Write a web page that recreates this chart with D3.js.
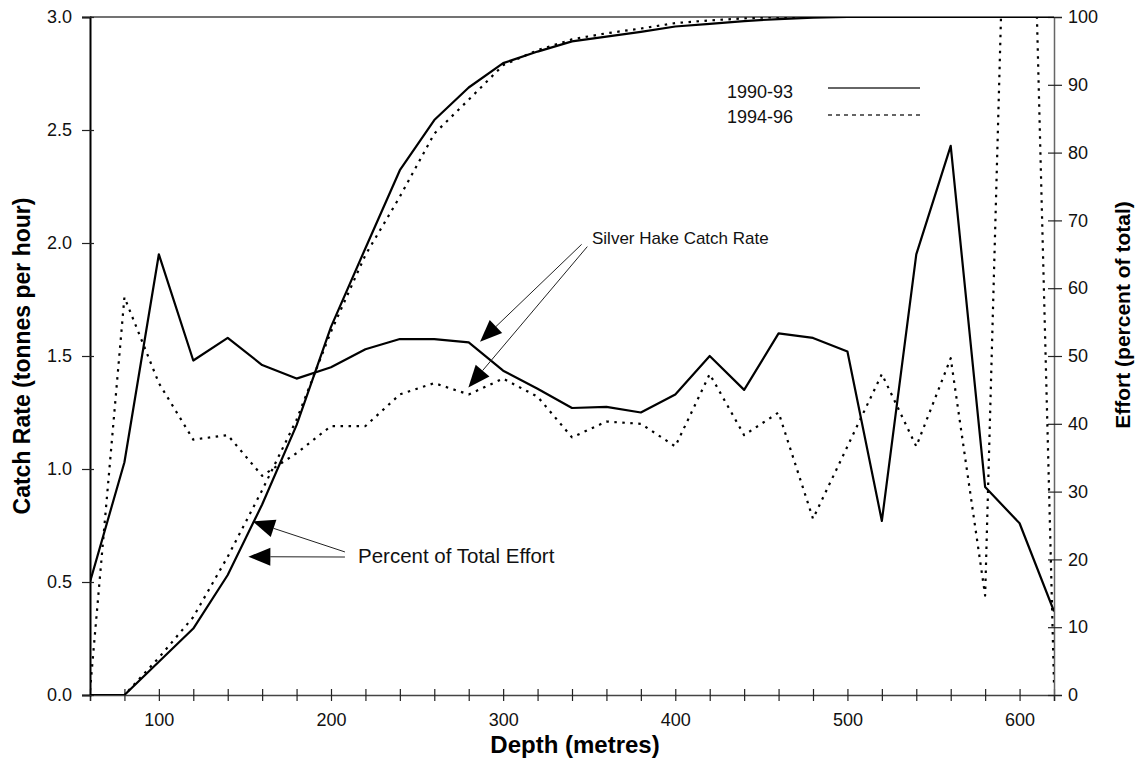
<!DOCTYPE html>
<html>
<head>
<meta charset="utf-8">
<script src="https://cdn.jsdelivr.net/npm/d3@7"></script>
<style>
  body { margin: 0; background: #fff; }
  svg { display: block; font-family: "Liberation Sans", Arial, sans-serif; }
</style>
</head>
<body>
<svg></svg>
<script>
// depth classes (metres)
var depth = [60, 80, 100, 120, 140, 160, 180, 200, 220, 240, 260, 280, 300, 320, 340,
             360, 380, 400, 420, 440, 460, 480, 500, 520, 540, 560, 580, 600, 620];

// silver hake catch rate (tonnes per hour)
var catch9093 = [0.50, 1.03, 1.95, 1.48, 1.58, 1.46, 1.40, 1.45, 1.53, 1.575, 1.575, 1.56, 1.435, 1.355, 1.27,
                 1.275, 1.25, 1.33, 1.50, 1.35, 1.60, 1.58, 1.52, 0.77, 1.95, 2.43, 0.92, 0.76, 0.37];
var catch9496 = [0.02, 1.76, 1.38, 1.13, 1.15, 0.97, 1.07, 1.19, 1.19, 1.33, 1.38, 1.33, 1.40, 1.32, 1.14,
                 1.21, 1.20, 1.10, 1.42, 1.15, 1.25, 0.78, 1.10, 1.42, 1.10, 1.49, 0.44, 6.0, 0.05];

// cumulative effort (percent of total)
var effort9093 = [0, 0, 4.9, 9.8, 17.7, 28.1, 39.8, 54.3, 65.9, 77.4, 84.8, 89.6, 93.2, 94.9, 96.4,
                  97.1, 97.8, 98.6, 99.0, 99.4, 99.7, 99.9, 100, 100, 100, 100, 100, 100, 100];
var effort9496 = [0, 0, 5.5, 11.5, 20.4, 30.2, 40.6, 53.6, 64.9, 73.5, 82.8, 87.8, 92.9, 95.1, 96.7,
                  97.6, 98.3, 99.1, 99.5, 99.8, 100, 100, 100, 100, 100, 100, 100, 100, 100];

var leftTicks = [0, 0.5, 1.0, 1.5, 2.0, 2.5, 3.0];
var rightTicks = [0, 10, 20, 30, 40, 50, 60, 70, 80, 90, 100];
var depthTicks = [60, 80, 100, 120, 140, 160, 180, 200, 220, 240, 260, 280, 300, 320, 340,
                  360, 380, 400, 420, 440, 460, 480, 500, 520, 540, 560, 580, 600, 620];
var depthLabels = [100, 200, 300, 400, 500, 600];
var legendLabels = ["1990-93", "1994-96"];

var width = 1142;
var height = 772;
var pLeft = 90, pRight = 1054, pTop = 17, pBottom = 695;
var dotted = "2.5,5.5";

var svg = d3.select('svg')
    .attr('width', width)
    .attr('height', height)
    .attr('viewBox', '0 0 ' + width + ' ' + height);

var x = d3.scaleLinear().domain([60, 620]).range([pLeft, pRight]);
var yL = d3.scaleLinear().domain([0, 3]).range([pBottom, pTop]);
var yR = d3.scaleLinear().domain([0, 100]).range([pBottom, pTop]);

svg.append("defs").append("clipPath").attr("id", "plot")
    .append("rect")
    .attr("x", pLeft).attr("y", pTop)
    .attr("width", pRight - pLeft).attr("height", pBottom - pTop);

// frame top
svg.append("line")
    .attr("x1", pLeft).attr("x2", pRight)
    .attr("y1", pTop).attr("y2", pTop)
    .attr("stroke", "#444").attr("stroke-width", 1.5);

// axes
var gx = svg.append("g")
    .attr("transform", "translate(0," + pBottom + ")")
    .call(d3.axisBottom(x).tickValues(depthTicks).tickSize(6).tickPadding(12)
        .tickFormat(function (d) { return depthLabels.indexOf(d) >= 0 ? d : ""; }));
gx.selectAll("line").attr("y1", -6);

var gl = svg.append("g")
    .attr("transform", "translate(" + pLeft + ",0)")
    .call(d3.axisLeft(yL).tickValues(leftTicks).tickSize(8).tickPadding(10)
        .tickFormat(d3.format(".1f")));
gl.selectAll("line").attr("x1", 4);

var gr = svg.append("g")
    .attr("transform", "translate(" + pRight + ",0)")
    .call(d3.axisRight(yR).tickValues(rightTicks).tickSize(8).tickPadding(6));
gr.selectAll("line").attr("x1", -6);

svg.selectAll(".domain").attr("stroke", "#444").attr("stroke-width", 1.5);
gl.select(".domain").attr("stroke", "#000").attr("stroke-width", 2);
gr.select(".domain").attr("stroke", "#666");
svg.selectAll(".tick line").attr("stroke", "#222").attr("stroke-width", 1.2);
svg.selectAll(".tick text")
    .attr("font-family", "'Liberation Sans', Arial, sans-serif")
    .attr("font-size", 18).attr("fill", "#111");

// lines
var plot = svg.append("g").attr("clip-path", "url(#plot)");

function addLine(values, yScale, dash) {
    var line = d3.line()
        .x(function (d, i) { return x(depth[i]); })
        .y(function (d) { return yScale(d); });
    plot.append("path")
        .datum(values)
        .attr("fill", "none")
        .attr("stroke", "#000")
        .attr("stroke-width", 2.2)
        .attr("stroke-dasharray", dash)
        .attr("stroke-linejoin", "round")
        .attr("d", line);
}

addLine(effort9093, yR, null);
addLine(effort9496, yR, dotted);
addLine(catch9093, yL, null);
addLine(catch9496, yL, dotted);

// legend
svg.selectAll(".leg")
    .data(legendLabels)
    .enter()
    .append("text")
    .attr("x", 727)
    .attr("y", function (d, i) { return 98 + i * 25; })
    .attr("font-size", 18)
    .attr("fill", "#111")
    .text(function (d) { return d; });

svg.selectAll(".legline")
    .data(legendLabels)
    .enter()
    .append("line")
    .attr("x1", 828).attr("x2", 920)
    .attr("y1", function (d, i) { return 88 + i * 27; })
    .attr("y2", function (d, i) { return 88 + i * 27; })
    .attr("stroke", "#333")
    .attr("stroke-width", 1.3)
    .attr("stroke-dasharray", function (d, i) { return i ? "4,4" : null; });

// annotations: arrows given in data units [depth, value]
function arrow(tail, tip, yScale) {
    var x0 = x(tail[0]), y0 = yScale(tail[1]);
    var x1 = x(tip[0]), y1 = yScale(tip[1]);
    var dx = x1 - x0, dy = y1 - y0, len = Math.sqrt(dx * dx + dy * dy);
    var ux = dx / len, uy = dy / len;
    var L = 22, W = 9;
    var bx = x1 - ux * L, by = y1 - uy * L;
    svg.append("line")
        .attr("x1", x0).attr("y1", y0).attr("x2", bx).attr("y2", by)
        .attr("stroke", "#222").attr("stroke-width", 1);
    svg.append("path")
        .attr("d", "M" + x1 + "," + y1 +
            "L" + (bx - uy * W) + "," + (by + ux * W) +
            "L" + (bx + uy * W) + "," + (by - ux * W) + "Z")
        .attr("fill", "#000");
}

arrow([345.6, 1.994], [286.6, 1.563], yL);
arrow([348.9, 1.984], [279.8, 1.361], yL);
arrow([208.1, 21.1], [154.5, 25.6], yR);
arrow([208.1, 20.35], [152.0, 20.4], yR);

svg.append("text")
    .attr("x", 592).attr("y", 244)
    .attr("font-size", 17).attr("fill", "#111")
    .text("Silver Hake Catch Rate");

svg.append("text")
    .attr("x", 358).attr("y", 563)
    .attr("font-size", 20.5).attr("fill", "#111")
    .text("Percent of Total Effort");

// axis titles
svg.append("text")
    .attr("x", 575).attr("y", 753)
    .attr("text-anchor", "middle")
    .attr("font-size", 24).attr("font-weight", "bold")
    .text("Depth (metres)");

svg.append("text")
    .attr("transform", "translate(22," + ((pTop + pBottom) / 2) + ") rotate(-90)")
    .attr("text-anchor", "middle").attr("dy", "0.35em")
    .attr("font-size", 23).attr("font-weight", "bold")
    .text("Catch Rate (tonnes per hour)");

svg.append("text")
    .attr("transform", "translate(1123,315) rotate(-90)")
    .attr("text-anchor", "middle").attr("dy", "0.35em")
    .attr("font-size", 21).attr("font-weight", "bold")
    .text("Effort (percent of total)");
</script>
</body>
</html>
